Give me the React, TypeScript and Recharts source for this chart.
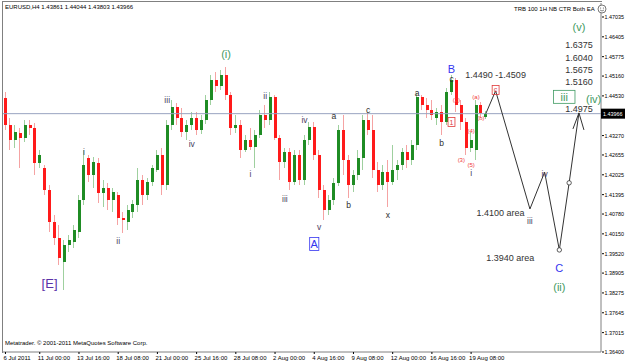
import React from 'react';
import { ComposedChart, Bar, Line, XAxis, YAxis, ReferenceLine, ReferenceDot } from 'recharts';

// EURUSD H4 candles (2 H4 bars per slot)
const opens = [
  1.4446, 1.4361, 1.4313, 1.4335, 1.4319, 1.4361, 1.4351, 1.424, 1.4224, 1.4154,
  1.4053, 1.4002, 1.3926, 1.398, 1.3989, 1.4021, 1.4123, 1.4256, 1.4202, 1.424,
  1.4145, 1.4161, 1.4123, 1.4138, 1.4065, 1.4053, 1.4084, 1.4107, 1.4186, 1.4138,
  1.418, 1.4218, 1.4265, 1.417, 1.4361, 1.4418, 1.4383, 1.4338, 1.4361, 1.4383,
  1.4345, 1.4377, 1.444, 1.4504, 1.4485, 1.4519, 1.4456, 1.4351, 1.4361, 1.4281,
  1.4313, 1.4291, 1.4329, 1.4392, 1.4377, 1.445, 1.4319, 1.4243, 1.4275, 1.418,
  1.4265, 1.4186, 1.4313, 1.4354, 1.4265, 1.4154, 1.4091, 1.4123, 1.4177, 1.4345,
  1.425, 1.417, 1.4202, 1.4256, 1.4377, 1.4345, 1.4218, 1.417, 1.4212, 1.418,
  1.4218, 1.4234, 1.4275, 1.425, 1.4297, 1.445, 1.4424, 1.4408, 1.4383, 1.4402,
  1.437, 1.4465, 1.4504, 1.4424, 1.437, 1.4288, 1.4281, 1.4424, 1.43861,
];
const highs = [
  1.4465, 1.4383, 1.4361, 1.4351, 1.4377, 1.4377, 1.4367, 1.4281, 1.4234, 1.417,
  1.4075, 1.4043, 1.3996, 1.4011, 1.4043, 1.4138, 1.4281, 1.4265, 1.4259, 1.4256,
  1.4186, 1.4177, 1.4161, 1.4148, 1.4084, 1.4107, 1.4123, 1.4224, 1.4202, 1.4192,
  1.4234, 1.4281, 1.4288, 1.4377, 1.444, 1.4431, 1.4415, 1.4377, 1.4402, 1.4402,
  1.4392, 1.4456, 1.4519, 1.4529, 1.4535, 1.4545, 1.4465, 1.4392, 1.4377, 1.4329,
  1.4351, 1.4345, 1.4408, 1.4424, 1.4465, 1.4456, 1.4329, 1.4288, 1.4288, 1.4281,
  1.4281, 1.4329, 1.437, 1.437, 1.4281, 1.417, 1.4138, 1.4192, 1.4361, 1.4392,
  1.4265, 1.4218, 1.4281, 1.4392, 1.4399, 1.4392, 1.4243, 1.4234, 1.425, 1.4297,
  1.425, 1.4288, 1.4297, 1.4313, 1.4462, 1.4456, 1.4446, 1.444, 1.4415, 1.4424,
  1.4478, 1.4519, 1.451, 1.444, 1.4383, 1.4338, 1.444, 1.4434, 1.44044,
];
const lows = [
  1.4345, 1.4281, 1.4288, 1.4224, 1.4307, 1.4329, 1.4202, 1.4224, 1.4138, 1.4021,
  1.398, 1.3916, 1.3837, 1.3958, 1.397, 1.4002, 1.4107, 1.418, 1.4161, 1.4113,
  1.41, 1.4091, 1.4084, 1.4043, 1.4018, 1.4027, 1.4065, 1.4084, 1.4107, 1.4123,
  1.4167, 1.4212, 1.4138, 1.4154, 1.4345, 1.4361, 1.4323, 1.4313, 1.4345, 1.4329,
  1.4332, 1.4364, 1.4424, 1.4465, 1.4472, 1.444, 1.4329, 1.4335, 1.4256, 1.4275,
  1.4281, 1.4224, 1.4319, 1.4351, 1.4361, 1.4313, 1.4186, 1.4224, 1.4154, 1.417,
  1.417, 1.417, 1.4297, 1.425, 1.4129, 1.4059, 1.4075, 1.4107, 1.4167, 1.4202,
  1.4129, 1.4148, 1.4186, 1.4218, 1.4329, 1.4192, 1.4148, 1.4154, 1.41, 1.417,
  1.4186, 1.4218, 1.4224, 1.4234, 1.4281, 1.4408, 1.4383, 1.4377, 1.4361, 1.4329,
  1.4361, 1.4456, 1.4402, 1.4345, 1.4265, 1.4275, 1.425, 1.4383, 1.43803,
];
const closes = [
  1.4361, 1.4313, 1.4338, 1.4319, 1.4361, 1.4351, 1.424, 1.4265, 1.4154, 1.4053,
  1.4002, 1.3938, 1.398, 1.3996, 1.4027, 1.4123, 1.4234, 1.4202, 1.4243, 1.4145,
  1.4161, 1.4123, 1.4148, 1.4065, 1.4059, 1.4091, 1.411, 1.4186, 1.4138, 1.418,
  1.4224, 1.4265, 1.417, 1.4361, 1.4418, 1.4383, 1.4338, 1.4361, 1.4383, 1.4345,
  1.4377, 1.444, 1.4504, 1.4485, 1.4519, 1.4456, 1.4351, 1.4361, 1.4281, 1.4313,
  1.4291, 1.4329, 1.4392, 1.4377, 1.445, 1.4319, 1.4243, 1.4275, 1.418, 1.4265,
  1.4186, 1.4313, 1.4354, 1.4265, 1.4154, 1.4091, 1.4123, 1.4177, 1.4345, 1.425,
  1.417, 1.4202, 1.4256, 1.4377, 1.4345, 1.4218, 1.417, 1.4212, 1.418, 1.4218,
  1.4234, 1.4275, 1.425, 1.4297, 1.445, 1.4424, 1.4408, 1.4392, 1.4402, 1.437,
  1.4465, 1.4504, 1.4424, 1.437, 1.4288, 1.4313, 1.4424, 1.4399, 1.43966,
];

const SLOTS = 122;
const lastPrice = 1.43966;

// projected wave path
const projSlots = [98, 100, 107, 110, 113, 115, 117];
const projPrices = [1.43966, 1.4469, 1.4094, 1.4211, 1.3964, 1.4177, 1.4399];
const projCircles = [113, 115];

const xTickSlots = [0, 7, 15, 23, 31, 39, 47, 55, 63, 71, 79, 87, 95];
const xTickLabels = [
  '6 Jul 2011', '11 Jul 00:00', '13 Jul 16:00', '18 Jul 08:00', '21 Jul 00:00', '25 Jul 16:00',
  '28 Jul 08:00', '2 Aug 00:00', '4 Aug 16:00', '9 Aug 08:00', '12 Aug 00:00', '16 Aug 16:00', '19 Aug 08:00',
];
const yTicks = [
  1.47035, 1.46405, 1.45775, 1.4516, 1.4453, 1.43966, 1.4327, 1.42655, 1.42025, 1.41395,
  1.4078, 1.4015, 1.3952, 1.38905, 1.38275, 1.37645, 1.37015, 1.364,
];

// wave labels: [slot, price, text, style]
const notes: [number, number, string, string][] = [
  [9, 1.3859, '[E]', 'E'],
  [16, 1.4275, 'i', 'r'],
  [23, 1.3993, 'ii', 'r'],
  [33, 1.444, 'iii', 'r'],
  [38, 1.43, 'iv', 'r'],
  [45, 1.4586, '(i)', 'g'],
  [50, 1.4205, 'i', 'r'],
  [53, 1.4453, 'ii', 'r'],
  [57, 1.4126, 'iii', 'r'],
  [61, 1.4377, 'iv', 'r'],
  [64, 1.4037, 'v', 'r'],
  [63, 1.3983, 'A', 'Bb'],
  [67, 1.4389, 'a', 'l'],
  [70, 1.4107, 'b', 'l'],
  [74, 1.4408, 'c', 'l'],
  [78, 1.4075, 'x', 'l'],
  [84, 1.4462, 'a', 'l'],
  [89, 1.4304, 'b', 'l'],
  [91, 1.4507, 'c', 'l'],
  [91, 1.4538, 'B', 'B'],
  [92, 1.444, '(2)', 's'],
  [91, 1.437, '1', 'sb'],
  [93, 1.425, '(3)', 's'],
  [95, 1.4342, '(4)', 's'],
  [95, 1.4234, '(5)', 's'],
  [95, 1.4208, 'i', 'r'],
  [96, 1.445, '(a)', 's'],
  [97, 1.4383, '(b)', 's'],
  [100, 1.4519, '1.4490 -1.4509', 'p'],
  [100, 1.4472, 'c', 'sb'],
  [107, 1.4056, 'iii', 'r'],
  [101, 1.4081, '1.4100 area', 'p'],
  [110, 1.4205, 'iv', 'r'],
  [103, 1.3938, '1.3940 area', 'p'],
  [113, 1.3907, 'C', 'B'],
  [113, 1.3846, '(ii)', 'g'],
  [117, 1.4672, '(v)', 'g'],
  [117, 1.4615, '1.6375', 'p'],
  [117, 1.4573, '1.6040', 'p'],
  [117, 1.4535, '1.5675', 'p'],
  [117, 1.4497, '1.5160', 'p'],
  [117, 1.4411, '1.4975', 'p'],
  [114, 1.445, 'iii', 'gb'],
  [120, 1.4443, '(iv)', 'g'],
];

const styles: Record<string, { fill: string; size: number; box?: boolean }> = {
  E: { fill: '#5a32a8', size: 13 },
  r: { fill: '#4a3f62', size: 8.5 },
  l: { fill: '#2e2e2e', size: 8.5 },
  g: { fill: '#3f9a62', size: 11 },
  gb: { fill: '#3f9a62', size: 11, box: true },
  B: { fill: '#3535f0', size: 11 },
  Bb: { fill: '#3535f0', size: 11, box: true },
  s: { fill: '#f03a3a', size: 6 },
  sb: { fill: '#e03a3a', size: 7, box: true },
  p: { fill: '#333333', size: 9 },
};

const data = Array.from({ length: SLOTS }, (_, i) => {
  const row: any = { i };
  if (i < closes.length) {
    row.o = opens[i];
    row.h = highs[i];
    row.l = lows[i];
    row.c = closes[i];
    row.range = [lows[i], highs[i]];
  }
  const k = projSlots.indexOf(i);
  if (k >= 0) row.proj = projPrices[k];
  return row;
});

const font = '"Liberation Sans", Arial, sans-serif';

const Candle = (props: any) => {
  const { x, y, width, height, payload } = props;
  if (!payload || payload.h == null) return null;
  const { o, h, l, c } = payload;
  const yHi = Math.min(y, y + height);
  const yLo = Math.max(y, y + height);
  const span = h - l || 1e-9;
  const py = (v: number) => yHi + ((h - v) / span) * (yLo - yHi);
  const up = c >= o;
  const top = Math.min(py(o), py(c));
  const bot = Math.max(py(o), py(c));
  const cx = Math.round(x + width / 2);
  return (
    <g shapeRendering="crispEdges">
      <rect x={cx - 1} y={yHi} width={1} height={yLo - yHi} fill={up ? '#9fd09f' : '#f5a3a3'} />
      <rect x={Math.round(x)} y={top} width={width} height={Math.max(1, bot - top)} fill={up ? '#1f8c24' : '#ff1a1a'} />
    </g>
  );
};

const ProjDot = (props: any) => {
  const { cx, cy, payload, index } = props;
  if (cx == null || cy == null || payload.proj == null) return <g key={`pd${index}`} />;
  if (payload.i === projSlots[projSlots.length - 1]) {
    return (
      <path key={`pd${index}`} d={`M${cx - 6},${cy + 16} L${cx},${cy} L${cx + 5},${cy + 17}`} stroke="#333" fill="none" strokeWidth={1} />
    );
  }
  if (projCircles.includes(payload.i)) {
    return <circle key={`pd${index}`} cx={cx} cy={cy} r={2.2} fill="#fff" stroke="#333" strokeWidth={0.8} />;
  }
  return <g key={`pd${index}`} />;
};

const NoteMark = ({ cx, cy, text, kind }: any) => {
  const st = styles[kind];
  const w = text.length * st.size * 0.56 + 3;
  return (
    <g>
      {st.box && <rect x={cx - w / 2} y={cy - st.size / 2 - 1} width={w} height={st.size + 2} fill="none" stroke={st.fill} strokeWidth={0.8} />}
      <text x={cx} y={cy} textAnchor="middle" dominantBaseline="central" fill={st.fill} fontSize={st.size} fontFamily={font}>
        {text}
      </text>
    </g>
  );
};

const PriceTick = (props: any) => {
  const { x, y, payload } = props;
  const v = payload.value;
  if (v === lastPrice) {
    return (
      <g>
        <rect x={x} y={y - 5} width={24} height={10} fill="#000" />
        <text x={x + 2} y={y + 2} fill="#fff" fontSize={5.4} fontFamily={font}>{v.toFixed(5)}</text>
      </g>
    );
  }
  return (
    <g>
      <line x1={x + 1} x2={x + 3} y1={y} y2={y} stroke="#000" />
      <text x={x + 3.5} y={y + 2} fill="#000" fontSize={5.4} fontFamily={font}>{v.toFixed(5)}</text>
    </g>
  );
};

const TimeTick = (props: any) => {
  const { x, y, payload } = props;
  const k = xTickSlots.indexOf(payload.value);
  if (k < 0) return null;
  return (
    <g>
      <line x1={x} x2={x} y1={y} y2={y + 2} stroke="#000" />
      <text x={x - 2} y={y + 8} fill="#000" fontSize={6} fontFamily={font}>{xTickLabels[k]}</text>
    </g>
  );
};

export default function App() {
  return (
    <div style={{ position: 'absolute', left: 0, top: 0, width: 625, height: 363, background: '#fff', fontFamily: font }}>
      <ComposedChart width={625} height={363} data={data} margin={{ top: 3, right: 0, bottom: 0, left: 3 }} barCategoryGap={0}>
        <XAxis
          dataKey="i"
          type="category"
          ticks={xTickSlots}
          interval={0}
          tick={<TimeTick />}
          tickLine={false}
          tickSize={0}
          tickMargin={0}
          height={11}
          axisLine={{ stroke: '#808080' }}
        />
        <YAxis
          orientation="right"
          domain={[1.364, 1.47479]}
          ticks={yTicks}
          interval={0}
          allowDataOverflow
          tick={<PriceTick />}
          tickLine={false}
          tickSize={0}
          tickMargin={0}
          width={24}
          axisLine={{ stroke: '#808080' }}
        />
        <ReferenceLine y={lastPrice} stroke="#98a3c0" strokeWidth={1} />
        <Bar dataKey="range" barSize={3} shape={<Candle />} isAnimationActive={false} />
        <Line
          dataKey="proj"
          connectNulls
          stroke="#333"
          strokeWidth={1}
          dot={<ProjDot />}
          activeDot={false}
          isAnimationActive={false}
        />
        {notes.map((n, k) => (
          <ReferenceDot
            key={k}
            x={n[0]}
            y={n[1]}
            r={0}
            shape={(p: any) => <NoteMark cx={p.cx} cy={p.cy} text={n[2]} kind={n[3]} />}
          />
        ))}
      </ComposedChart>
      <div style={{ position: 'absolute', left: 2, top: 1, width: 599, height: 351, borderLeft: '1px solid #808080', borderTop: '1px solid #808080', pointerEvents: 'none' }} />
      <div style={{ position: 'absolute', left: 5, top: 4, fontSize: 6, color: '#000', whiteSpace: 'nowrap' }}>
        EURUSD,H4 1.43861 1.44044 1.43803 1.43966
      </div>
      <div style={{ position: 'absolute', left: 514, top: 4, fontSize: 6, color: '#000', whiteSpace: 'nowrap', display: 'flex', alignItems: 'center' }}>
        TRB 100 1H NB CTR Both EA
        <svg width={10} height={10} style={{ marginLeft: 2 }}>
          <circle cx={5} cy={5} r={4} fill="#fff" stroke="#555" strokeWidth={0.8} />
          <circle cx={3.6} cy={4} r={0.6} fill="#555" />
          <circle cx={6.4} cy={4} r={0.6} fill="#555" />
          <path d="M3,6 Q5,8 7,6" stroke="#555" strokeWidth={0.7} fill="none" />
        </svg>
      </div>
      <div style={{ position: 'absolute', left: 5, top: 340, fontSize: 6, color: '#000', whiteSpace: 'nowrap' }}>
        Metatrader. © 2001-2011 MetaQuotes Software Corp.
      </div>
    </div>
  );
}
